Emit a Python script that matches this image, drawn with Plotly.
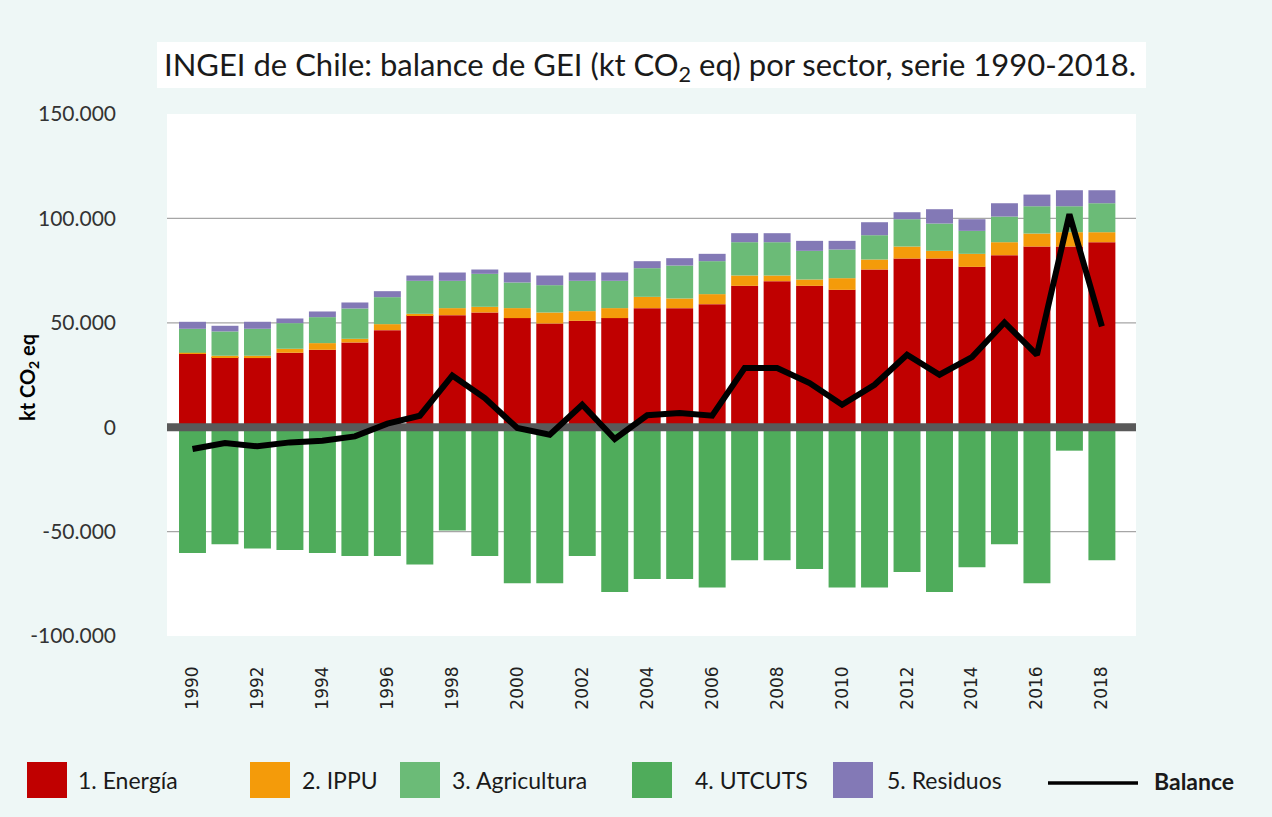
import plotly.graph_objects as go

# ---------------- data (kt CO2 eq) ----------------
years = list(range(1990, 2019))
energia = [35170, 33580, 33100, 35650, 37080, 40590, 46490, 53670, 53670, 54950,
           52240, 49680, 50960, 52240, 57020, 57020, 58940, 67710, 69940, 67710,
           65790, 75520, 80790, 80790, 76800, 82380, 86530, 86530, 88600]
ippu = [480, 640, 1120, 1910, 3190, 1750, 2870, 640, 3350, 2710,
        4790, 5260, 4630, 4790, 5420, 4630, 4790, 4950, 2710, 3030,
        5580, 4790, 5740, 3670, 6220, 6220, 6220, 6860, 4790]
agricultura = [11480, 11640, 12920, 12280, 12440, 14520, 12920, 15790, 13080, 15790,
               12280, 13080, 14520, 13080, 13720, 15790, 15790, 15950, 15950, 13720,
               13720, 11640, 13080, 13080, 11010, 12280, 13080, 12440, 13880]
utcuts = [-60210, -56060, -58140, -58780, -60210, -61650, -61650, -65790, -49520, -61650,
          -74730, -74730, -61650, -78870, -72650, -72650, -76800, -63720, -63720, -67870,
          -76800, -76800, -69300, -78870, -67070, -56060, -74730, -11240, -63720]
residuos = [3350, 2710, 3350, 2230, 2710, 2870, 2870, 2550, 3990, 2070,
            4790, 4630, 3990, 3990, 3350, 3510, 3510, 4310, 4310, 4790,
            4150, 6220, 3350, 6860, 5580, 6380, 5580, 7660, 6220]
balance = [-10430, -7560, -9170, -7270, -6460, -4400, 1680, 5500, 24790, 13970,
           -400, -3590, 10770, -5660, 5740, 6780, 5500, 28330, 28330, 21140,
           10770, 20340, 34690, 25120, 33580, 50170, 34690, 102000, 48250]

series_names = ["1. Energía", "2. IPPU", "3. Agricultura", "4. UTCUTS", "5. Residuos"]
balance_name = "Balance"
x_ticks = list(range(1990, 2019, 2))
y_ticks = [-100000, -50000, 0, 50000, 100000, 150000]
y_ticktext = ["-100.000", "-50.000", "0", "50.000", "100.000", "150.000"]
grid_values = [-50000, 50000, 100000]

title_text = "INGEI de Chile: balance de GEI (kt CO<sub>2</sub> eq) por sector, serie 1990-2018."
y_title = "<b>kt CO<sub>2</sub> eq</b>"

# ---------------- styling ----------------
colors = ["#C00000", "#F49B0A", "#6BBB77", "#4FAC5B", "#8379B6"]
BG = "#EEF7F6"
FONT = "Lato"
W, H = 1272, 817
PL, PR, PT, PB = 167, 1136, 114, 636   # plot area in pixels
X_RANGE = [1989.215, 2019.05]
Y_RANGE = [-100000, 150000]


def pxx(px):
    return (px - PL) / (PR - PL)


def pxy(py):
    return (PB - py) / (PB - PT)


fig = go.Figure()
for name, vals, col in zip(series_names,
                           [energia, ippu, agricultura, utcuts, residuos], colors):
    fig.add_trace(go.Bar(x=years, y=vals, name=name, marker_color=col,
                         marker_line_width=0, showlegend=False))

# zero reference line (drawn over bars, under balance line)
fig.add_trace(go.Scatter(x=X_RANGE, y=[0, 0], mode="lines",
                         line=dict(color="#595959", width=8),
                         hoverinfo="skip", showlegend=False))
fig.add_trace(go.Scatter(x=years, y=balance, mode="lines", name=balance_name,
                         line=dict(color="black", width=6), showlegend=False))

shapes = []
# grid lines
for gv in grid_values:
    shapes.append(dict(type="line", xref="paper", yref="y", x0=0, x1=1, y0=gv, y1=gv,
                       line=dict(color="#A6A6A6", width=1.3), layer="below"))
# title box
shapes.append(dict(type="rect", xref="paper", yref="paper",
                   x0=pxx(157), x1=pxx(1146), y0=pxy(88), y1=pxy(42),
                   fillcolor="white", line=dict(width=0), layer="below"))

annotations = []
# custom legend
leg_sq_x = [27, 250, 400, 632, 833]
leg_tx_x = [76, 300, 450, 693, 885]
for name, col, sx, tx in zip(series_names, colors, leg_sq_x, leg_tx_x):
    shapes.append(dict(type="rect", xref="paper", yref="paper",
                       x0=pxx(sx), x1=pxx(sx + 40), y0=pxy(798), y1=pxy(762),
                       fillcolor=col, line=dict(width=0)))
    annotations.append(dict(text=name, xref="paper", yref="paper", x=pxx(tx), y=pxy(780),
                            xanchor="left", yanchor="middle", showarrow=False,
                            font=dict(family=FONT, size=23, color="#1a1a1a")))
shapes.append(dict(type="line", xref="paper", yref="paper",
                   x0=pxx(1048), x1=pxx(1138), y0=pxy(783), y1=pxy(783),
                   line=dict(color="black", width=3.5)))
annotations.append(dict(text="<b>" + balance_name + "</b>", xref="paper", yref="paper",
                        x=pxx(1152), y=pxy(781), xanchor="left", yanchor="middle",
                        showarrow=False, font=dict(family=FONT, size=23, color="#1a1a1a")))
# y axis title
annotations.append(dict(text=y_title, xref="paper", yref="paper", x=pxx(28), y=pxy(378),
                        xanchor="center", yanchor="middle", textangle=-90, showarrow=False,
                        font=dict(family=FONT, size=20, color="black")))

fig.update_layout(
    width=W, height=H,
    margin=dict(l=PL, r=W - PR, t=PT, b=H - PB, pad=0),
    paper_bgcolor=BG, plot_bgcolor="white",
    barmode="relative", bargap=0.17,
    showlegend=False,
    title=dict(text=title_text, x=650 / W, xanchor="center", xref="container",
               y=1 - 65 / H, yanchor="middle", yref="container",
               font=dict(family=FONT, size=31, color="#1a1a1a")),
    shapes=shapes, annotations=annotations,
    font=dict(family=FONT),
)
fig.update_xaxes(range=X_RANGE, tickmode="array", tickvals=x_ticks,
                 ticktext=[str(v) for v in x_ticks], tickangle=-90,
                 showgrid=False, zeroline=False, showline=False, ticks="",
                 ticklabelstandoff=26,
                 tickfont=dict(family="DejaVu Sans", size=17, color="#222222"))
fig.update_yaxes(range=Y_RANGE, tickmode="array", tickvals=y_ticks, ticktext=y_ticktext,
                 showgrid=False, zeroline=False, showline=False, ticks="",
                 ticklabelstandoff=50,
                 tickfont=dict(family=FONT, size=21, color="#333333"))

fig.write_html("out.html", config={"displayModeBar": False},
               post_script="document.body.style.margin='0';document.body.style.overflow='hidden';")
